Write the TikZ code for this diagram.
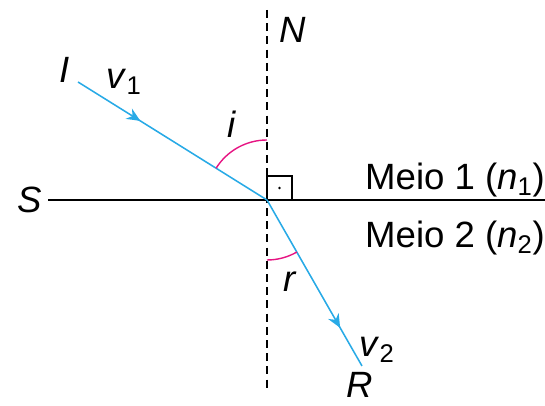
\documentclass[tikz,border=0pt]{standalone}
\usepackage{fontspec}
\setmainfont{Liberation Sans}
\usepackage{tikz}
\usetikzlibrary{arrows.meta,positioning,calc,decorations.markings}
\definecolor{raioazul}{RGB}{40,170,230}
\definecolor{arcorosa}{RGB}{230,20,130}
\tikzset{
  rfline/.style={line width=1pt, black},
  rfnormal/.style={line width=0.9pt, black, dash pattern=on 0.2cm off 0.13cm},
  rfray/.style={line width=1.1pt, raioazul},
  rfarrow/.style={postaction={decorate}, decoration={markings,
      mark=at position #1 with {\arrow{Stealth[length=3.4mm,width=3mm]}}}},
  rfangle/.style={line width=1pt, arcorosa},
  rflabel/.style={font=\fontsize{26}{30}\selectfont, inner sep=0pt},
}
\newcommand{\rfv}[1]{\textit{v}\textsubscript{#1}}
\newcommand{\rfn}[1]{(\textit{n}\textsubscript{#1})}

\begin{document}
\begin{tikzpicture}[x=0.025cm, y=0.025cm]
  \useasboundingbox (0,0) rectangle (545,406);
  % Points of incidence and rays
  \coordinate (O) at (267,206);
  \coordinate (Ntop) at (267,396);
  \coordinate (Nbot) at (267,16);
  \coordinate (Sleft) at (48,206);
  \coordinate (Sright) at (545,206);
  \coordinate (Istart) at (78,324);
  \coordinate (Rend) at (362,40);

  % Interface and normal
  \draw[rfline] (Sleft) -- (Sright);
  \draw[rfnormal] (Ntop) -- (Nbot);

  % Right angle mark
  \draw[rfline, line width=0.9pt] (O) |- ($(O)+(25,24)$) |- (O);
  \fill ($(O)+(12.5,12)$) circle (1.4);

  % Rays
  \draw[rfray, rfarrow=0.33] (Istart) -- (O);
  \draw[rfray, rfarrow=0.77] (O) -- (Rend);

  % Angles
  \draw[rfangle] ($(O)+(148:60)$) arc[start angle=148, end angle=90, radius=60];
  \draw[rfangle] ($(O)+(-90:60)$) arc[start angle=-90, end angle=-60.2, radius=60];

  % Labels
  \node[rflabel] (lI) at (65,336) {\textit{I}};
  \node[rflabel] (lv1) at (124,324) {\rfv{1}};
  \node[rflabel] (li) at (232,282) {\textit{i}};
  \node[rflabel] (lN) at (293,376) {\textit{N}};
  \node[rflabel] (lS) at (30,206) {\textit{S}};
  \node[rflabel] (lm1) at (455,226) {Meio 1 \rfn{1}};
  \node[rflabel] (lm2) at (455,168) {Meio 2 \rfn{2}};
  \node[rflabel] (lr) at (290,124) {\textit{r}};
  \node[rflabel] (lv2) at (377,56) {\rfv{2}};
  \node[rflabel] (lR) at (360,21) {\textit{R}};
\end{tikzpicture}
\end{document}
